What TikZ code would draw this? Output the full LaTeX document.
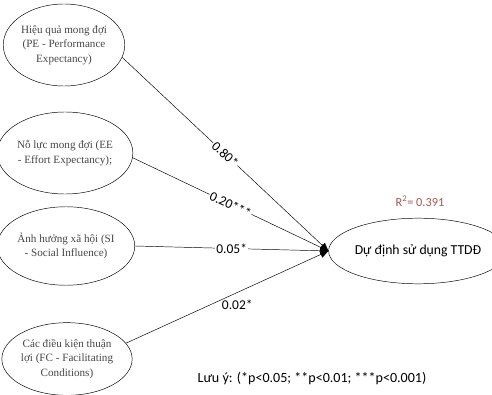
\documentclass[tikz,border=0pt]{standalone}
\usepackage{fontspec}
\setmainfont{Liberation Serif}
\newfontfamily\calibri{Carlito}
\usetikzlibrary{arrows.meta,shapes.geometric}
\definecolor{rsqcolor}{RGB}{165,85,80}
\definecolor{factorgray}{RGB}{70,70,70}

\begin{document}
\begin{tikzpicture}[x=0.03cm,y=-0.03cm,auto,
    factor/.style={ellipse,draw,thin,inner sep=0pt,minimum width=97pt,minimum height=70pt,
      align=center,text=factorgray,font=\fontsize{9.5}{12.5}\selectfont},
    target/.style={ellipse,draw,thin,inner sep=0pt,minimum width=125pt,minimum height=56pt,
      font=\calibri\fontsize{11.7}{14}\selectfont},
    coef/.style={fill=white,inner sep=1pt,anchor=center,font=\calibri\fontsize{11.5}{13}\selectfont},
    path/.style={-{Triangle[length=7pt,width=6pt]},thin}]
  \useasboundingbox (0,0) rectangle (492,395);
  \node[factor] (pe) at (64,45) {Hiệu quả mong đợi\\(PE - Performance\\Expectancy)};
  \node[factor] (ee) at (65,153) {Nỗ lực mong đợi (EE\\- Effort Expectancy);};
  \node[factor,minimum width=100pt,minimum height=67pt] (si) at (66,246) {Ảnh hưởng xã hội (SI\\- Social Influence)};
  \node[factor,minimum width=92pt,minimum height=62pt] (fc) at (67,359) {Các điều kiện thuận\\lợi (FC - Facilitating\\Conditions)};
  \node[target] (dd) at (418,251) {Dự định sử dụng TTDĐ};
  \node[text=rsqcolor,font=\calibri\fontsize{10.5}{12}\selectfont] (rsq) at (420,201) {R\textsuperscript{2}= 0.391};
  \node[font=\calibri\fontsize{12}{14}\selectfont] (note) at (312,378) {Lưu ý: (*p<0.05; **p<0.01; ***p<0.001)};
  \path[path]
    (pe.-12) edge node[coef,sloped,midway] {0.80*} (dd.west)
    (ee.-4) edge node[coef,sloped,midway] {0.20***} (dd.west)
    (si.east) edge node[coef,midway] {0.05*} (dd.west)
    (fc.15) edge node[coef,fill=none,below=5pt,pos=0.55] {0.02*} (dd.west);
\end{tikzpicture}
\end{document}
